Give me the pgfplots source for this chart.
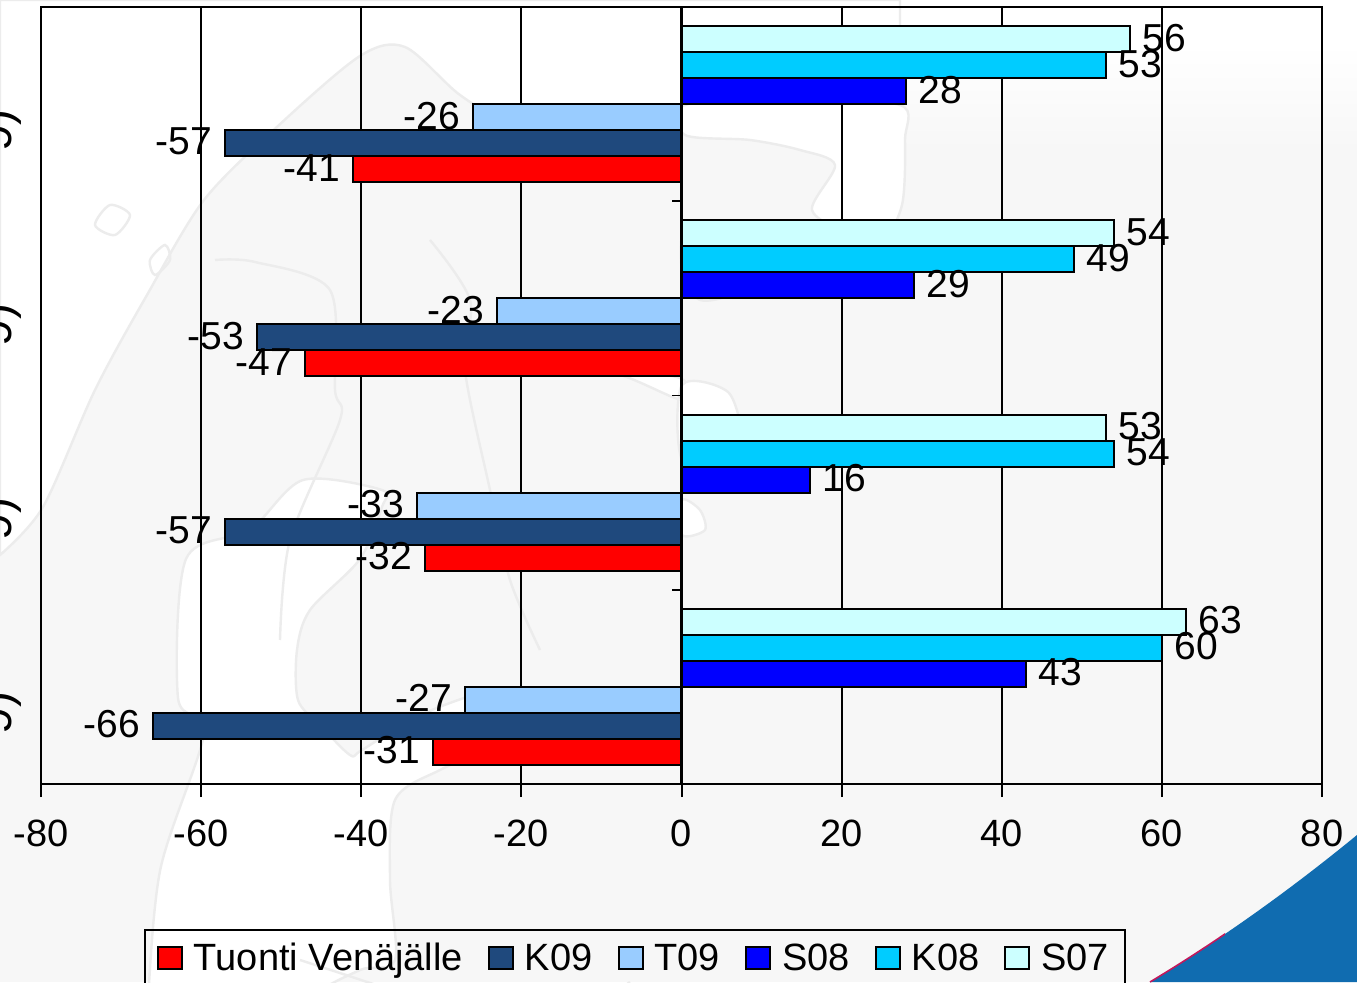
\documentclass[border=0pt]{standalone}
\usepackage{pgfplots}
\pgfplotsset{compat=1.18}
\usepackage{fontspec}
\setmainfont{Liberation Sans}
\newcommand{\lblfont}{\fontsize{19}{22}\selectfont}
\newcommand{\valfont}{\fontsize{19.5}{22}\selectfont}
\definecolor{landgrey}{HTML}{F7F7F7}
\definecolor{coast}{HTML}{ECECEC}
\definecolor{tuonti}{HTML}{FF0000}
\definecolor{kninenine}{HTML}{1F497D}
\definecolor{tnine}{HTML}{99CCFF}
\definecolor{seight}{HTML}{0000FF}
\definecolor{keight}{HTML}{00CCFF}
\definecolor{sseven}{HTML}{CCFFFF}
\definecolor{cornerblue}{HTML}{106CB0}
\definecolor{cornerred}{HTML}{C2185B}
\begin{document}
\begin{tikzpicture}
\path[use as bounding box] (0,0) rectangle (678.5pt,491pt);
% background map, coordinates in reference pixels
\begin{scope}[x=0.5pt,y=-0.5pt,yshift=491pt]
\fill[landgrey] (0,0) rectangle (1357,982);
\fill[white] (0,0) rectangle (1357,44);
\shade[top color=white,bottom color=landgrey] (899,44) rectangle (1357,150);
% Norwegian sea and Barents coast
\filldraw[white,draw=coast,line width=1.2pt] plot[smooth] coordinates {(0,555) (43,507) (95,390) (147,295) (204,200) (278,126) (360,56) (405,47) (460,95) (520,130) (600,150) (680,130) (780,85) (900,70)} -- (900,0) -- (0,0) -- cycle;
% White Sea
\filldraw[white,draw=coast,line width=1.2pt] plot[smooth cycle] coordinates {(685,135) (750,140) (800,150) (835,165) (812,210) (850,235) (880,245) (902,205) (905,140) (900,105) (790,100) (685,105)};
\filldraw[white,draw=coast,line width=1.2pt] plot[smooth cycle] coordinates {(685,225) (715,250) (735,290) (700,300) (682,270)};
\filldraw[white,draw=coast,line width=1.2pt] plot[smooth cycle] coordinates {(538,338) (590,365) (680,378) (682,400) (620,375) (560,370)};
\filldraw[white,draw=coast,line width=1.2pt] plot[smooth cycle] coordinates {(682,385) (728,392) (745,440) (755,462) (725,472) (682,460)};
\filldraw[white,draw=coast,line width=1.2pt] plot[smooth cycle] coordinates {(682,500) (700,510) (705,530) (682,535)};
% Baltic sea with its gulfs
\filldraw[white,draw=coast,line width=1.2pt] plot[smooth cycle] coordinates {(303,480) (382,490) (382,507) (360,559) (310,610) (297,650) (298,700) (320,725) (350,755) (362,750) (420,715) (495,690) (505,715) (550,722) (550,740) (500,745) (440,770) (395,800) (390,880) (395,960) (360,970) (310,1000) (295,1060) (150,1060) (147,1023) (160,871) (204,733) (178,698) (186,559) (250,530)};
% borders and islands
\draw[coast,line width=1.2pt] plot[smooth] coordinates {(215,260) (255,262) (330,290) (335,390) (340,420) (290,540) (280,640)};
\draw[coast,line width=1.2pt] plot[smooth] coordinates {(430,240) (470,300) (465,370) (490,490) (510,580) (540,650)};
\draw[coast,line width=1.2pt] plot[smooth] coordinates {(300,960) (420,1000) (520,1040) (630,982)};
\draw[coast,line width=1.2pt] plot[smooth cycle] coordinates {(95,225) (110,205) (130,215) (115,235)};
\draw[coast,line width=1.2pt] plot[smooth cycle] coordinates {(150,260) (165,245) (170,260) (155,275)};
% corner of the slide
\fill[cornerblue] (1357,835) .. controls (1290,890) and (1220,940) .. (1150,982) -- (1357,982) -- cycle;
\begin{scope}
\clip (1140,930) rectangle (1225,982);
\draw[cornerred,line width=0.8pt] (1357,835) .. controls (1290,890) and (1220,940) .. (1150,982);
\end{scope}
\end{scope}
\begin{axis}[
at={(20.5pt,99pt)},
anchor=south west,
scale only axis,
width=640.5pt,
height=388.5pt,
xbar=0pt,
bar width=13pt,
xmin=-80, xmax=80,
ymin=0, ymax=4,
xtick={-80,-60,...,80},
xtick pos=bottom,
tick align=outside,
xmajorgrids=true,
major grid style={black,line width=1pt},
axis line style={black,line width=1pt},
x tick style={black,line width=1pt},
major tick length=6.5pt,
ytick={0.5,1.5,2.5,3.5},
yticklabels={9),9),9),9)},
y tick style={draw=none},
y tick label style={rotate=90,anchor=south east,inner sep=0pt,font=\fontsize{24}{26}\selectfont,xshift=-2.3pt,yshift=3.25pt},
x tick label style={font=\lblfont,yshift=-8pt},
/pgf/number format/assume math mode=true,
nodes near coords,
nodes near coords align={horizontal},
every node near coord/.append style={font=\valfont,inner sep=6pt,black,yshift=0.75pt},
legend columns=6,
legend style={
  at={(0.0804,-0.1866)},anchor=north west,
  fill=none,draw=black,line width=1pt,
  font=\lblfont,
  inner xsep=6pt,inner ysep=4.5pt,
  /tikz/every even column/.append style={column sep=10.5pt},
},
legend image code/.code={\draw[#1,line width=1pt] (0pt,-5.5pt) rectangle (12pt,5.5pt); \path (15.5pt,0pt);},
]
\addplot[draw=black,line width=1pt,fill=tuonti,bar shift=-32.5pt] coordinates {(-31,0.5) (-32,1.5) (-47,2.5) (-41,3.5)};
\addlegendentry{Tuonti Venäjälle\hspace{3pt}}
\addplot[draw=black,line width=1pt,fill=kninenine,bar shift=-19.5pt] coordinates {(-66,0.5) (-57,1.5) (-53,2.5) (-57,3.5)};
\addlegendentry{K09}
\addplot[draw=black,line width=1pt,fill=tnine,bar shift=-6.5pt] coordinates {(-27,0.5) (-33,1.5) (-23,2.5) (-26,3.5)};
\addlegendentry{T09}
\addplot[draw=black,line width=1pt,fill=seight,bar shift=6.5pt] coordinates {(43,0.5) (16,1.5) (29,2.5) (28,3.5)};
\addlegendentry{S08}
\addplot[draw=black,line width=1pt,fill=keight,bar shift=19.5pt] coordinates {(60,0.5) (54,1.5) (49,2.5) (53,3.5)};
\addlegendentry{K08}
\addplot[draw=black,line width=1pt,fill=sseven,bar shift=32.5pt] coordinates {(63,0.5) (53,1.5) (54,2.5) (56,3.5)};
\addlegendentry{S07}
% vertical axis crossing at zero, with its short ticks
\draw[black,line width=1.5pt] (axis cs:0,0) -- (axis cs:0,4);
\draw[black,line width=0.8pt] (axis cs:0,0) -- ++(-5pt,0pt);
\draw[black,line width=0.8pt] (axis cs:0,1) -- ++(-5pt,0pt);
\draw[black,line width=0.8pt] (axis cs:0,2) -- ++(-5pt,0pt);
\draw[black,line width=0.8pt] (axis cs:0,3) -- ++(-5pt,0pt);
\end{axis}
\end{tikzpicture}
\end{document}
